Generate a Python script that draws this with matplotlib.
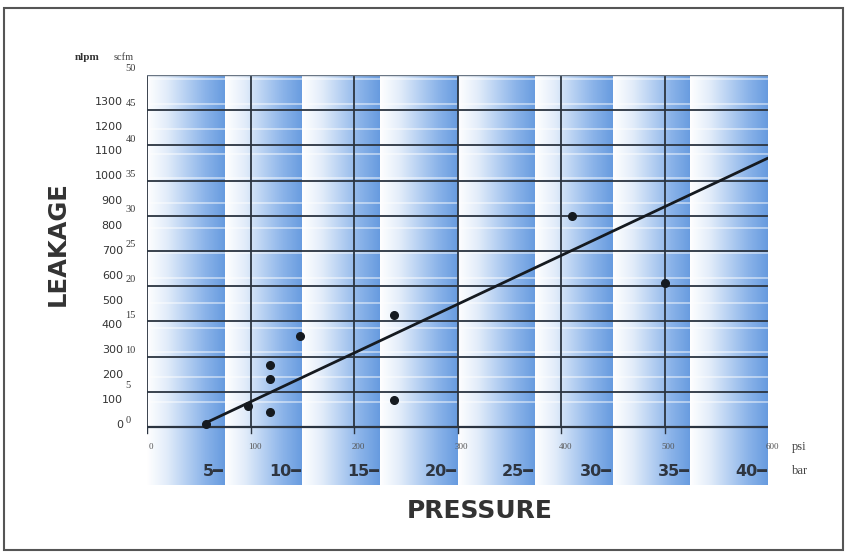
import numpy as np
import matplotlib
matplotlib.use("Agg")
import matplotlib.pyplot as plt
from matplotlib.colors import LinearSegmentedColormap
from matplotlib.patches import Rectangle

# ---- data ----
psi_points = [57, 98, 119, 119, 119, 148, 239, 239, 411, 500]
scfm_points = [0.4, 3.0, 2.1, 6.8, 8.8, 12.9, 15.9, 3.8, 30.0, 20.5]
trend_psi = [57, 600]
trend_scfm = [0.6, 38.2]
scfm_ticks = [0, 5, 10, 15, 20, 25, 30, 35, 40, 45, 50]
nlpm_ticks = [0, 100, 200, 300, 400, 500, 600, 700, 800, 900, 1000, 1100, 1200, 1300]
psi_ticks = [0, 100, 200, 300, 400, 500, 600]
bar_labels = ["5", "10", "15", "20", "25", "30", "35", "40"]
band_edges_psi = [0, 75, 150, 225, 300, 375, 450, 525, 600]
NLPM_PER_SCFM = 28.317

W, H = 849, 554
fig = plt.figure(figsize=(W / 100, H / 100), dpi=100)
fig.patch.set_facecolor("white")

# axes: psi 0..600 -> px 147..768 ; scfm 50 at px 75, band bottom at px 485
ax = fig.add_axes([147 / W, (H - 485) / H, (768 - 147) / W, (485 - 75) / H])
ymin = -(485 - 427) / ((427 - 75) / 50)
ax.set_xlim(0, 600)
ax.set_ylim(ymin, 50)
ax.axis("off")

cmap = LinearSegmentedColormap.from_list(
    "band", ["#ffffff", "#e3edfa", "#b6d0f2", "#8ab3e9", "#679bdf"])
grad = np.linspace(0, 1, 256).reshape(1, -1)
for i in range(len(band_edges_psi) - 1):
    ax.imshow(grad, cmap=cmap, aspect="auto", interpolation="bilinear",
              extent=[band_edges_psi[i], band_edges_psi[i + 1], ymin, 50],
              zorder=0)
ax.set_xlim(0, 600)
ax.set_ylim(ymin, 50)

# faint white lines at each 100 nlpm
for n in nlpm_ticks[1:] + [1400]:
    y = n / NLPM_PER_SCFM
    if y < 50:
        ax.plot([0, 600], [y, y], color="white", lw=1.1, alpha=0.6, zorder=1)

# black grid
for s in scfm_ticks:
    ax.plot([0, 600], [s, s], color="#2b3440", lw=1.3, zorder=2)
for p in psi_ticks[:-1]:
    ax.plot([p, p], [0, 50], color="#2b3440", lw=1.3, zorder=2)
    ax.plot([p, p], [0, -0.8], color="#2b3440", lw=1.0, zorder=2)
ax.plot([600, 600], [0, 50], color="#8a9ab0", lw=0.8, zorder=2)
ax.plot([0, 600], [50, 50], color="#6a7684", lw=1.0, zorder=2)
ax.plot([-3, 600], [0, 0], color="#2b3440", lw=1.6, zorder=2)

# trend line and points
ax.plot(trend_psi, trend_scfm, color="#151a20", lw=2.0, zorder=3,
        solid_capstyle="round")
ax.plot(psi_points, scfm_points, "o", color="#151a20", ms=5.5, zorder=4)

# y tick labels
ytr = ax.get_yaxis_transform()
for n in nlpm_ticks:
    ax.text(-0.039, n / NLPM_PER_SCFM + 0.3, str(n), transform=ytr,
            ha="right", va="center", fontsize=8, color="#333333",
            family="DejaVu Sans", clip_on=False)
for s in scfm_ticks:
    ax.text(-0.035, s + 0.9, str(s), transform=ytr, ha="left", va="center",
            fontsize=7.5, color="#3a3a3a", family="Liberation Serif",
            clip_on=False)

# x tick labels (psi)
for p in psi_ticks:
    ax.text(p + 4, -2.85, str(p), ha="center", va="center", fontsize=6.5,
            color="#555555", family="Liberation Serif", zorder=5)
ax.text(630, -2.85, "psi", ha="center", va="center", fontsize=9,
        color="#444444", family="Liberation Serif", clip_on=False)

# bar labels
for i, lab in enumerate(bar_labels):
    ax.text(band_edges_psi[i + 1] - 1, -6.3, lab + "\u2501", ha="right",
            va="center", fontsize=11.5, fontweight="bold", color="#2e3540",
            family="DejaVu Sans", zorder=5)
ax.text(631, -6.3, "bar", ha="center", va="center", fontsize=9,
        color="#444444", family="Liberation Serif", clip_on=False)

# axis titles
fig.text(87 / W, 1 - 57 / H, "nlpm", ha="center", va="center", fontsize=8,
         fontweight="bold", color="#333333", family="Liberation Serif")
fig.text(124 / W, 1 - 57 / H, "scfm", ha="center", va="center", fontsize=7.5,
         color="#444444", family="Liberation Serif")
fig.text(58 / W, 1 - 244 / H, "LEAKAGE", rotation=90, ha="center",
         va="center", fontsize=17.5, fontweight="bold", color="#333333",
         family="DejaVu Sans")
fig.text(480 / W, 1 - 511 / H, "PRESSURE", ha="center", va="center",
         fontsize=18, fontweight="bold", color="#333333",
         family="DejaVu Sans")

# outer frame
fig.add_artist(Rectangle((4 / W, 1 - 550 / H), (843 - 4) / W, (550 - 8) / H,
                         transform=fig.transFigure, fill=False,
                         edgecolor="#555555", lw=1.5))

fig.savefig("out.png", dpi=100)
